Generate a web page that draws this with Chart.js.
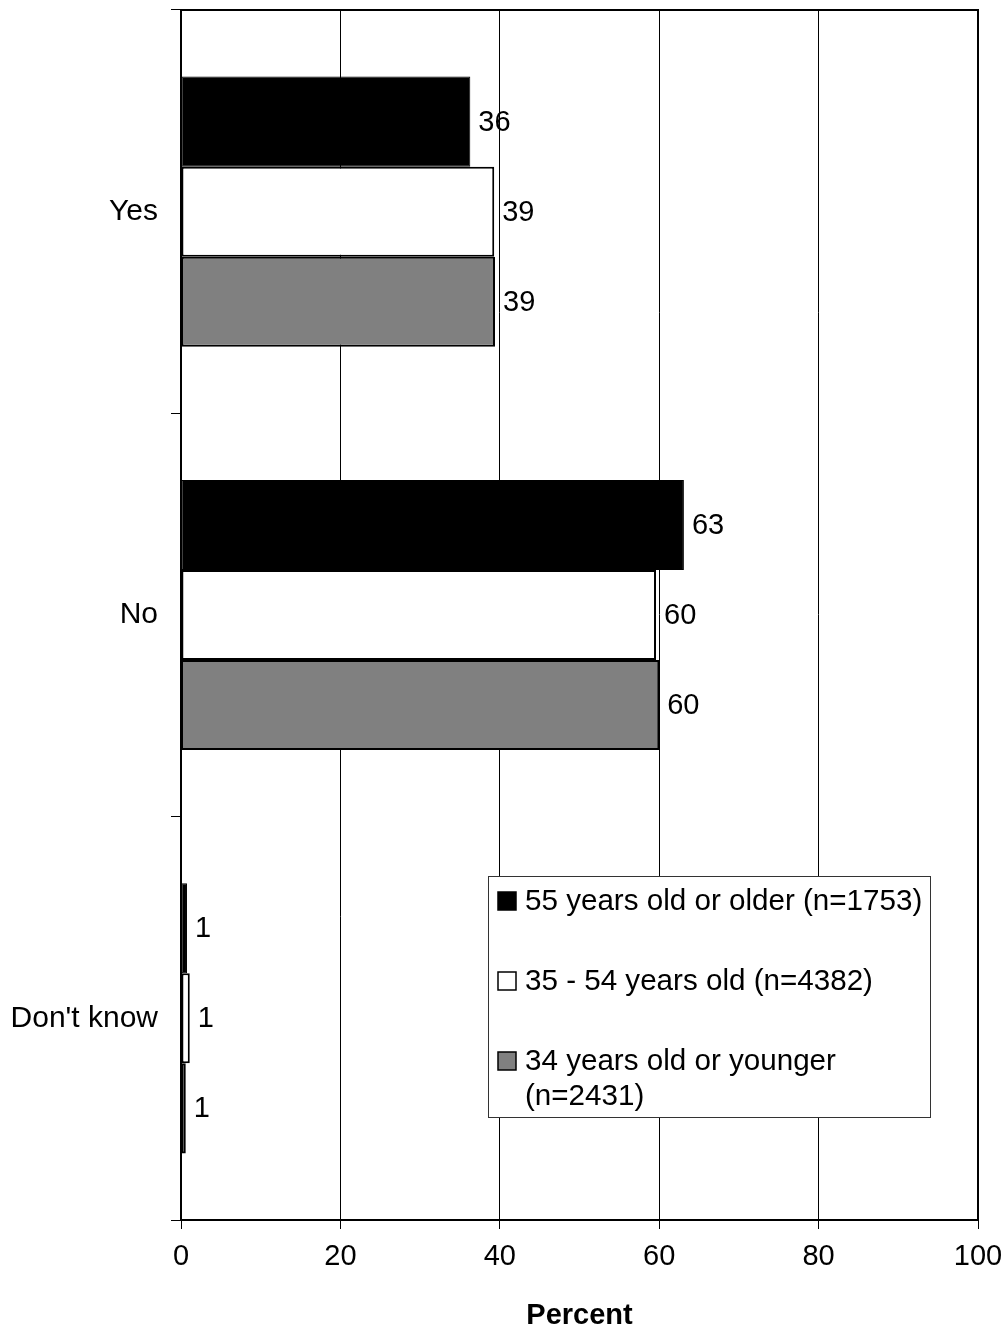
<!DOCTYPE html>
<html>
<head>
<meta charset="utf-8">
<title>Percent by age group</title>
<script src="https://cdn.jsdelivr.net/npm/chart.js@4.4.1/dist/chart.umd.min.js"></script>
<style>
    html, body { margin: 0; padding: 0; background: #fff; }
    #wrap { width: 1008px; height: 1330px; }
</style>
</head>
<body>
<div id="wrap"><canvas id="chartCanvas" width="1008" height="1330"></canvas></div>
<script>
// Chart data
const categories = ['Yes', 'No', "Don't know"];
const seriesLabels = [
    '55 years old or older (n=1753)',
    '35 - 54 years old (n=4382)',
    '34 years old or younger (n=2431)'
];
const olderValues = [36.3, 63.1, 0.75];
const middleValues = [39.3, 59.6, 1.1];
const youngerValues = [39.4, 60.0, 0.6];
const xTicks = [0, 20, 40, 60, 80, 100];

const FONT = '"Liberation Sans", Arial, sans-serif';
const FONT_SIZE = 29;

Chart.defaults.font.family = FONT;
Chart.defaults.color = '#000';

/**
 * Value labels at the end of each bar
 */
const valueLabels = {
    id: 'valueLabels',
    afterDatasetsDraw(chart) {
        const ctx = chart.ctx;
        ctx.save();
        ctx.font = FONT_SIZE + 'px ' + FONT;
        ctx.fillStyle = '#000';
        ctx.textAlign = 'left';
        ctx.textBaseline = 'middle';
        chart.data.datasets.forEach((ds, i) => {
            chart.getDatasetMeta(i).data.forEach((bar, j) => {
                ctx.fillText(String(Math.round(ds.data[j])), bar.x + 8, bar.y + 1);
            });
        });
        ctx.restore();
    }
};

/**
 * Top and right border of the plot area
 */
const plotFrame = {
    id: 'plotFrame',
    afterDraw(chart) {
        const { ctx, chartArea: a } = chart;
        ctx.save();
        ctx.strokeStyle = '#000';
        ctx.lineWidth = 2;
        ctx.beginPath();
        ctx.moveTo(a.left, a.top);
        ctx.lineTo(a.right, a.top);
        ctx.lineTo(a.right, a.bottom);
        ctx.stroke();
        ctx.restore();
    }
};

/**
 * Boxed legend inside the plot area
 */
const boxLegend = {
    id: 'boxLegend',
    afterDraw(chart) {
        const ctx = chart.ctx;
        const x = 488, y = 876, w = 442, h = 241;
        ctx.save();
        ctx.fillStyle = '#fff';
        ctx.fillRect(x, y, w, h);
        ctx.strokeStyle = '#333';
        ctx.lineWidth = 1;
        ctx.strokeRect(x + 0.5, y + 0.5, w, h);

        ctx.font = '29.6px ' + FONT;
        ctx.textAlign = 'left';
        ctx.textBaseline = 'middle';
        const maxWidth = w - 38;
        let rowY = y + 25;
        chart.data.datasets.forEach(ds => {
            // swatch
            ctx.fillStyle = ds.backgroundColor;
            ctx.fillRect(498, rowY - 9, 18, 18);
            ctx.strokeStyle = '#000';
            ctx.lineWidth = 1.5;
            ctx.strokeRect(498, rowY - 9, 18, 18);
            // wrap text
            const words = ds.label.split(' ');
            const lines = [];
            let line = '';
            words.forEach(word => {
                const test = line ? line + ' ' + word : word;
                if (ctx.measureText(test).width > maxWidth && line) {
                    lines.push(line);
                    line = word;
                } else {
                    line = test;
                }
            });
            lines.push(line);
            ctx.fillStyle = '#000';
            lines.forEach((l, k) => ctx.fillText(l, 525, rowY + 1 + k * 35));
            rowY += 80;
        });
        ctx.restore();
    }
};

const ctx = document.getElementById('chartCanvas').getContext('2d');

new Chart(ctx, {
    type: 'bar',
    data: {
        labels: categories,
        datasets: [
            {
                label: seriesLabels[0],
                data: olderValues,
                backgroundColor: '#000000',
                borderColor: '#000000',
                borderWidth: 1,
                borderSkipped: false
            },
            {
                label: seriesLabels[1],
                data: middleValues,
                backgroundColor: '#ffffff',
                borderColor: '#000000',
                borderWidth: 2,
                borderSkipped: false
            },
            {
                label: seriesLabels[2],
                data: youngerValues,
                backgroundColor: '#808080',
                borderColor: '#000000',
                borderWidth: 2,
                borderSkipped: false
            }
        ]
    },
    options: {
        indexAxis: 'y',
        responsive: false,
        animation: false,
        layout: {
            padding: { left: 0, right: 30, top: 10, bottom: 0 }
        },
        datasets: {
            bar: {
                categoryPercentage: 0.67,
                barPercentage: 1.0
            }
        },
        plugins: {
            legend: { display: false },
            tooltip: { enabled: false }
        },
        scales: {
            x: {
                min: 0,
                max: 100,
                afterBuildTicks: (scale) => {
                    scale.ticks = xTicks.map(v => ({ value: v }));
                },
                afterFit: (scale) => {
                    scale.height = 110;
                    scale.paddingLeft = 0;
                    scale.paddingRight = 0;
                },
                ticks: {
                    font: { size: FONT_SIZE },
                    color: '#000',
                    padding: 11,
                    maxRotation: 0
                },
                grid: {
                    color: '#000',
                    lineWidth: 1,
                    tickLength: 9,
                    drawTicks: true
                },
                border: { color: '#000', width: 2 },
                title: {
                    display: true,
                    text: 'Percent',
                    font: { size: FONT_SIZE, weight: 'bold' },
                    color: '#000',
                    padding: { top: 0, bottom: -3 }
                }
            },
            y: {
                afterFit: (scale) => {
                    scale.width = 181;
                    scale.paddingTop = 0;
                    scale.paddingBottom = 0;
                },
                ticks: {
                    font: { size: 30 },
                    color: '#000',
                    padding: 13
                },
                grid: {
                    offset: true,
                    drawOnChartArea: false,
                    drawTicks: true,
                    tickLength: 10,
                    color: '#000'
                },
                border: { color: '#000', width: 2 }
            }
        }
    },
    plugins: [valueLabels, plotFrame, boxLegend]
});
</script>
</body>
</html>
